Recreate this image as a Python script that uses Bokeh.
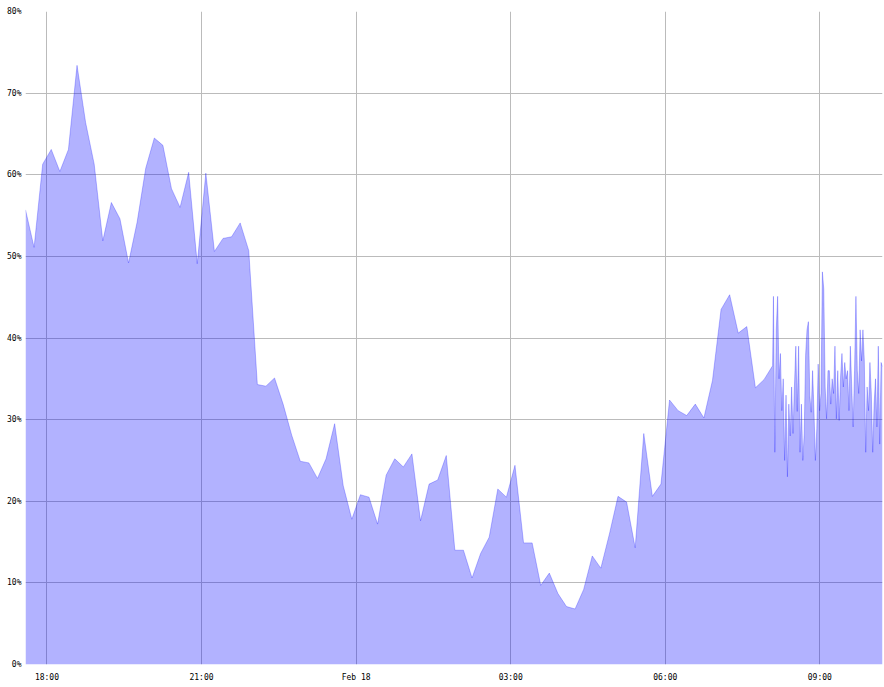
import pandas as pd
from bokeh.plotting import figure
from bokeh.models import Range1d, FixedTicker, PrintfTickFormatter, ColumnDataSource
from bokeh.embed import file_html
from bokeh.resources import INLINE

# ---- data ----
regular_start = "2024-02-17 17:35"   # 10-minute samples
regular_values = [
    55.7, 51.1, 61.3, 63.1, 60.4, 63.1, 73.4, 66.4, 61.3, 51.9,
    56.6, 54.6, 49.2, 54.2, 60.8, 64.5, 63.6, 58.3, 56.0, 60.3,
    49.1, 60.2, 50.6, 52.2, 52.4, 54.1, 50.7, 34.3, 34.1, 35.1,
    31.9, 28.1, 24.9, 24.7, 22.8, 25.2, 29.5, 21.9, 17.8, 20.8,
    20.5, 17.2, 23.2, 25.2, 24.2, 25.8, 17.6, 22.1, 22.6, 25.6,
    14.0, 14.0, 10.6, 13.6, 15.6, 21.5, 20.5, 24.4, 14.9, 14.9,
    9.7, 11.2, 8.7, 7.1, 6.8, 9.2, 13.3, 11.8, 16.0, 20.6,
    19.9, 14.3, 28.3, 20.6, 22.1, 32.4, 31.1, 30.5, 31.9, 30.2,
    34.8, 43.5, 45.3, 40.6, 41.4, 33.9, 34.9, 36.6,
]
dense_start = "2024-02-18 08:06"     # high-frequency samples
dense_end = "2024-02-18 10:13"
dense_values = [
    45.1, 26.0, 41.0, 45.1, 35.0, 38.1, 31.1, 35.0, 25.0, 33.0,
    23.0, 31.9, 28.0, 34.0, 28.3, 34.0, 39.0, 31.0, 39.0, 26.0,
    31.9, 25.0, 28.3, 37.9, 41.0, 42.0,
    33.0, 30.9, 36.0, 31.0, 25.0, 28.9, 36.8, 31.1, 33.2, 48.1,
    46.0, 34.0, 30.1, 36.0, 36.0, 31.9, 35.0, 33.2, 39.0, 30.1,
    36.0, 29.9, 35.2, 38.1, 34.0, 37.0, 35.0, 36.0, 31.1, 39.0,
    34.0,
    29.1, 36.0, 45.1, 36.0, 33.2, 41.0, 37.2, 41.0, 37.2, 26.0,
    34.0, 31.1, 37.0, 33.2, 26.0, 31.9, 35.0, 29.1, 39.0, 27.0,
    37.0, 36.5,
]
x_tick_times = ["2024-02-17 18:00", "2024-02-17 21:00", "2024-02-18 00:00",
                "2024-02-18 03:00", "2024-02-18 06:00", "2024-02-18 09:00"]
x_tick_labels = ["18:00", "21:00", "Feb 18", "03:00", "06:00", "09:00"]
y_ticks = [0, 10, 20, 30, 40, 50, 60, 70, 80]

# ---- build series ----
reg_times = pd.date_range(regular_start, periods=len(regular_values), freq="10min")
dense_times = pd.date_range(dense_start, dense_end, periods=len(dense_values))
times = list(reg_times) + list(dense_times)
values = regular_values + dense_values
src = ColumnDataSource(dict(t=times, v=values))

FONT = "DejaVu Sans Mono"

p = figure(width=884, height=687, x_axis_type="datetime",
           output_backend="svg", toolbar_location=None,
           x_range=Range1d(times[0], times[-1]), y_range=Range1d(0, 80),
           min_border_left=25, min_border_right=2, min_border_top=11,
           min_border_bottom=23)
p.outline_line_color = None
p.background_fill_color = "white"
p.border_fill_color = "white"

p.varea(x="t", y1=0, y2="v", source=src, fill_color="blue", fill_alpha=0.3)
p.line(x="t", y="v", source=src, line_color="blue", line_alpha=0.25, line_width=1)

tick_ms = [pd.Timestamp(t).value / 1e6 for t in x_tick_times]
p.xaxis.ticker = FixedTicker(ticks=tick_ms)
p.xaxis.major_label_overrides = {ms: lab for ms, lab in zip(tick_ms, x_tick_labels)}
p.yaxis.ticker = FixedTicker(ticks=y_ticks)
p.yaxis.formatter = PrintfTickFormatter(format="%d%%")

for ax in (p.xaxis[0], p.yaxis[0]):
    ax.axis_line_color = None
    ax.major_tick_line_color = None
    ax.minor_tick_line_color = None
    ax.major_tick_out = 0
    ax.major_tick_in = 0
    ax.minor_tick_out = 0
    ax.major_label_text_font = FONT
    ax.major_label_text_font_size = "8px"
    ax.major_label_text_color = "#000000"
p.xaxis.major_label_standoff = 8
p.yaxis.major_label_standoff = 4

p.grid.grid_line_color = "#bbbbbb"
p.grid.grid_line_width = 1
p.grid.grid_line_alpha = 1.0

open("out.html", "w").write(file_html(p, INLINE))
